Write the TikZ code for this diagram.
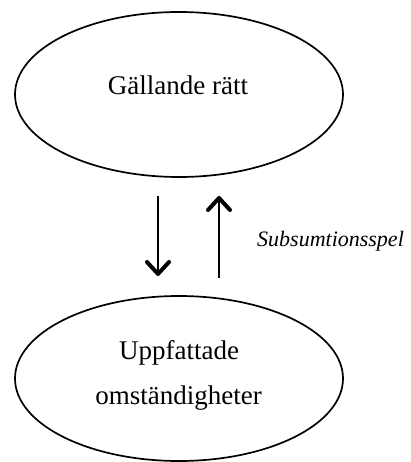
\documentclass[tikz,border=0pt]{standalone}
\usepackage{fontspec}
\setmainfont{Liberation Serif}
\usetikzlibrary{shapes.geometric,arrows.meta}
\begin{document}
\begin{tikzpicture}[x=1pt,y=-1pt,
  oval/.style={draw,ellipse,line width=1.7pt,minimum width=328pt,minimum height=165pt,
    inner sep=0pt,align=center,font=\fontsize{27}{45}\selectfont},
  flow/.style={line width=2.2pt,-{Straight Barb[length=12pt,width=22pt,line width=4pt,round]}},
  tag/.style={font=\fontsize{22}{26}\selectfont\itshape,anchor=base west,inner sep=0pt}]
  \useasboundingbox (0,0) rectangle (411,462);
  % the two states
  \node[oval] (law) at (179,94.5) {};
  \node[font=\fontsize{27}{32}\selectfont,anchor=base,inner sep=0pt] (lawtext) at (178,95) {Gällande rätt};
  \node[oval] (facts) at (179,378.5) {};
  \node[font=\fontsize{27}{32}\selectfont,anchor=base,inner sep=0pt] (f1) at (179,359) {Uppfattade};
  \node[font=\fontsize{27}{32}\selectfont,anchor=base,inner sep=0pt] (f2) at (178.5,404) {omständigheter};
  % arrow ends
  \coordinate (downA) at (158,196);
  \coordinate (downB) at (158,276);
  \coordinate (upA) at (219,278);
  \coordinate (upB) at (219,196);
  \draw[flow] (downA) -- (downB);
  \draw[flow] (upA) -- (upB);
  \node[tag] (label) at (257,246) {Subsumtionsspel};
\end{tikzpicture}
\end{document}
